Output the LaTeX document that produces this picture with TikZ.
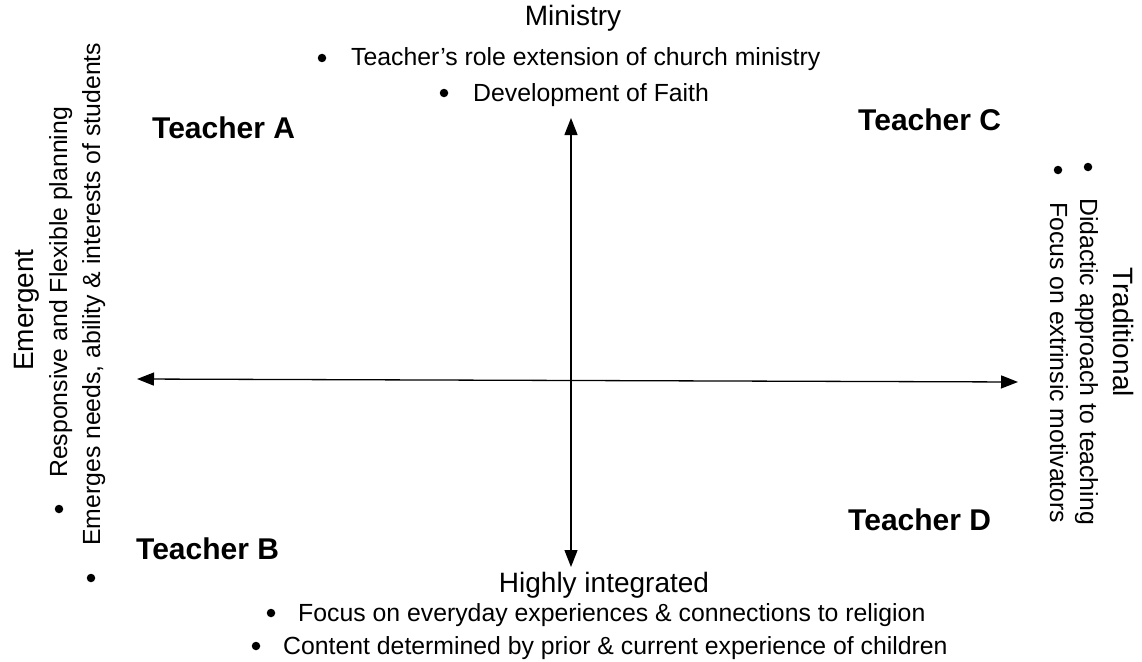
\documentclass[tikz,border=0pt]{standalone}
\usepackage{fontspec}
\setmainfont{Liberation Sans}
\usetikzlibrary{arrows.meta}
\begin{document}
\begin{tikzpicture}[x=1pt,y=-1pt,
  head/.style={inner sep=0pt,anchor=base,font=\fontsize{28}{32}\selectfont},
  body/.style={inner sep=0pt,anchor=base west,font=\fontsize{24.8}{28}\selectfont},
  dot/.style={circle,fill=black,inner sep=0pt,minimum size=8.5pt},
  teacher/.style={inner sep=0pt,anchor=base west,font=\fontsize{30}{34}\selectfont\bfseries},
  axis/.style={line width=1.3pt,{Triangle[length=17pt,width=13pt]}-{Triangle[length=17pt,width=13pt]}}]
\useasboundingbox (0,0) rectangle (1142,661);
% top
\node[head] (ministry) at (573,26) {Ministry};
\node[body] (t1) at (351,66) {Teacher’s role extension of church ministry};
\node[dot] (bt1) at (322,58) {};
\node[body] (t2) at (473,101) {Development of Faith};
\node[dot] (bt2) at (444,93) {};
% bottom
\node[head] (hi) at (604,592) {Highly integrated};
\node[body] (b1) at (298,621) {Focus on everyday experiences \& connections to religion};
\node[dot] (bb1) at (271,613) {};
\node[body] (b2) at (283,654) {Content determined by prior \& current experience of children};
\node[dot] (bb2) at (256,646) {};
% left
\node[head,rotate=90] (emergent) at (33,310) {Emergent};
\node[body,rotate=90] (l1) at (67,478) {Responsive and Flexible planning};
\node[dot] (bl1) at (59,509) {};
\node[body,rotate=90] (l2) at (100,546) {Emerges needs, ability \& interests of students};
\node[dot] (bl2) at (91,578) {};
% right
\node[head,rotate=-90] (trad) at (1113,332) {Traditional};
\node[body,rotate=-90] (r1) at (1080,198) {Didactic approach to teaching};
\node[dot] (br1) at (1088,167) {};
\node[body,rotate=-90] (r2) at (1050,202) {Focus on extrinsic motivators};
\node[dot] (br2) at (1058,170) {};
% teachers
\node[teacher] (ta) at (152,138) {Teacher A};
\node[teacher] (tc) at (858,130) {Teacher C};
\node[teacher] (tb) at (136,559) {Teacher B};
\node[teacher] (td) at (848,530) {Teacher D};
% axes
\coordinate (vt) at (571,118);
\coordinate (vb) at (571,567);
\coordinate (hl) at (137,379);
\coordinate (hr) at (1018,382);
\draw[axis] (vt) -- (vb);
\draw[axis] (hl) -- (hr);
\end{tikzpicture}
\end{document}
